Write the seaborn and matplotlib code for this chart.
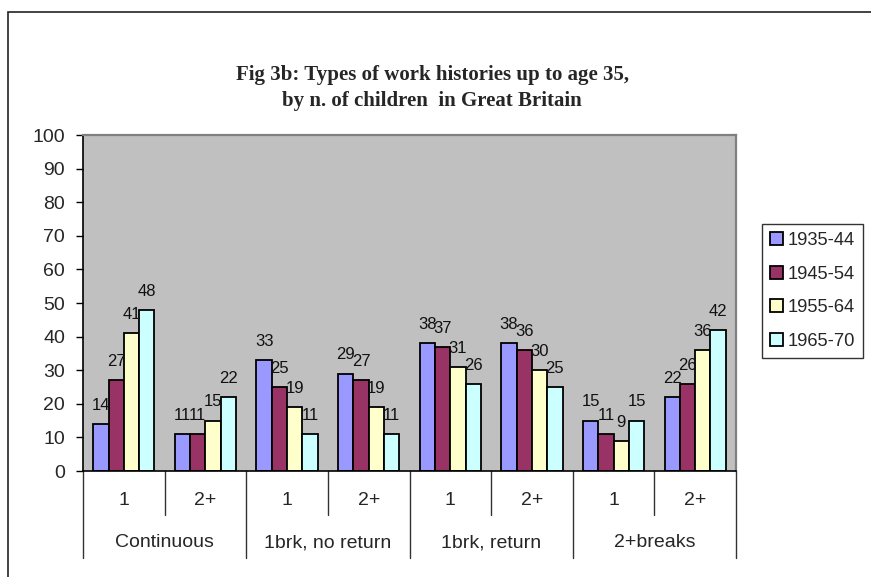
import matplotlib
matplotlib.use("Agg")
import matplotlib.pyplot as plt
import matplotlib.patches as mpatches
import matplotlib.transforms as mtransforms
import seaborn as sns
import pandas as pd

# Work-history types and number of children
groups = ["Continuous", "1brk, no return", "1brk, return", "2+breaks"]
children = ["1", "2+"]
cohorts = ["1935-44", "1945-54", "1955-64", "1965-70"]

# Percentages per cohort, ordered group by group (1 child, then 2+ children)
v_1935_44 = [14, 11, 33, 29, 38, 38, 15, 22]
v_1945_54 = [27, 11, 25, 27, 37, 36, 11, 26]
v_1955_64 = [41, 15, 19, 19, 31, 30, 9, 36]
v_1965_70 = [48, 22, 11, 11, 26, 25, 15, 42]

colors = ["#9999FF", "#993366", "#FFFFCC", "#CCFFFF"]

series = [v_1935_44, v_1945_54, v_1955_64, v_1965_70]
slots = [f"{g}|{c}" for g in groups for c in children]
rows = []
for cohort, vals in zip(cohorts, series):
    for slot, v in zip(slots, vals):
        rows.append({"slot": slot, "cohort": cohort, "value": v})
df = pd.DataFrame(rows)

sns.set_style("white")
plt.rcParams["font.family"] = ["Liberation Sans", "DejaVu Sans"]

W, H = 871, 577
fig = plt.figure(figsize=(W / 100, H / 100), dpi=100)
ax = fig.add_axes([83 / W, 1 - 471 / H, (736 - 83) / W, (471 - 135) / H])
ax.set_facecolor("#C0C0C0")

sns.barplot(data=df, x="slot", y="value", hue="cohort", order=slots,
            hue_order=cohorts, palette=colors, width=0.75, ax=ax,
            edgecolor="black", linewidth=1.3, saturation=1, errorbar=None,
            legend=False)

for cont in ax.containers:
    ax.bar_label(cont, fmt="%d", padding=8, fontsize=12, color="#111111")

ax.set_ylim(0, 100)
ax.set_xlim(-0.5, len(slots) - 0.5)
ax.set_yticks(range(0, 101, 10))
ax.tick_params(axis="y", which="both", direction="out", length=5, width=1,
               color="black", pad=8, labelsize=14, left=True)
ax.set_xticks([])
ax.set_xlabel("")
ax.set_ylabel("")

for side in ["top", "right"]:
    ax.spines[side].set_color("#808080")
    ax.spines[side].set_linewidth(1.6)
for side in ["left", "bottom"]:
    ax.spines[side].set_color("black")
    ax.spines[side].set_linewidth(1.2)

# Two-level category axis below the plot area
trans = mtransforms.blended_transform_factory(ax.transData, ax.transAxes)
for i in range(len(slots) + 1):
    xb = i - 0.5
    y_end = -0.259 if i % 2 == 0 else -0.131
    ax.plot([xb, xb], [0, y_end], transform=trans, color="#333333",
            lw=1.0, clip_on=False)
for i, slot in enumerate(slots):
    ax.text(i, -0.088, slot.split("|")[1], transform=trans, ha="center",
            va="center", fontsize=14)
for j, g in enumerate(groups):
    ax.text(2 * j + 0.5, -0.214, g, transform=trans, ha="center",
            va="center", fontsize=14)

# Title
title_font = ["Liberation Serif", "DejaVu Serif"]
fig.text(432 / W, 1 - 75 / H, "Fig 3b: Types of work histories up to age 35,",
         ha="center", va="center", fontsize=15, fontweight="bold",
         family=title_font)
fig.text(432 / W, 1 - 101 / H, "by n. of children  in Great Britain",
         ha="center", va="center", fontsize=15, fontweight="bold",
         family=title_font)

# Legend
handles = [mpatches.Patch(facecolor=c, edgecolor="black", linewidth=1.3,
                          label=lab) for c, lab in zip(colors, cohorts)]
leg = fig.legend(handles=handles, loc="upper left",
                 bbox_to_anchor=(762 / W, 1 - 224 / H), frameon=True,
                 fancybox=False, fontsize=13.2, handlelength=0.7,
                 handleheight=0.7, handletextpad=0.25, labelspacing=0.9,
                 borderpad=0.45, borderaxespad=0)
leg.get_frame().set_edgecolor("black")
leg.get_frame().set_linewidth(1.0)

# Outer chart frame
fig.add_artist(mpatches.Rectangle((8 / W, -0.1), 1.2, 1.1 - 12 / H,
                                  transform=fig.transFigure, fill=False,
                                  edgecolor="#222222", linewidth=1.2,
                                  clip_on=False))

fig.savefig("out.png", dpi=100, facecolor="white")
